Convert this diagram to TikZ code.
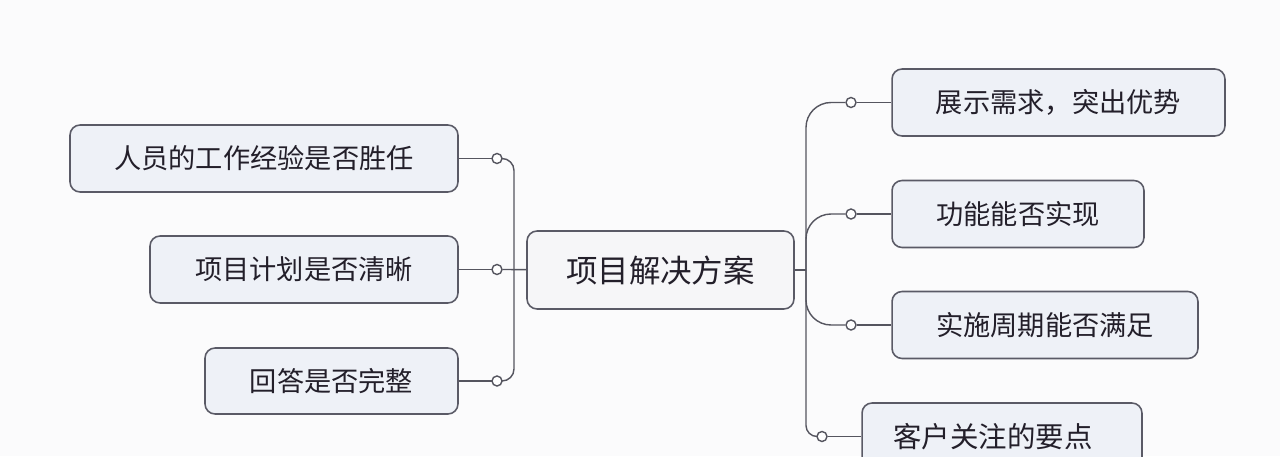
\documentclass[tikz,border=0pt]{standalone}
\usepackage{fontspec}
\newfontfamily\cjk{Noto Sans CJK SC}
\definecolor{boxfill}{HTML}{EEF1F7}
\definecolor{topicfill}{HTML}{F6F6F8}
\definecolor{boxline}{HTML}{5A5A66}
\definecolor{wirecol}{HTML}{55555F}
\definecolor{ink}{HTML}{231F2A}
\definecolor{paper}{HTML}{FBFBFC}
\begin{document}
\begin{tikzpicture}[x=0.02cm, y=-0.02cm,
  box/.style={draw=boxline, line width=0.9pt, fill=boxfill, rounded corners=0.2cm, inner sep=0pt, align=center, text=ink, font=\cjk\fontsize{15.5}{18}\selectfont, minimum height=1.34cm},
  knob/.style={circle, draw=wirecol, line width=0.8pt, fill=white, inner sep=0pt, minimum size=0.2cm},
  wire/.style={draw=wirecol, line width=0.8pt}]
\fill[paper] (0,0) rectangle (1280,456);
\useasboundingbox (0,0) rectangle (1280,456);
% central topic
\node[box, fill=topicfill, minimum width=5.34cm, minimum height=1.56cm, font=\cjk\fontsize{17.9}{20}\selectfont] (topic) at (660.5,270) {项目解决方案};
% left branches
\node[box, minimum width=7.76cm] (exp) at (264,158.5) {人员的工作经验是否胜任};
\node[box, minimum width=6.16cm] (plan) at (304,269.5) {项目计划是否清晰};
\node[box, minimum width=5.06cm, minimum height=1.32cm] (answer) at (331.5,381) {回答是否完整};
% right branches
\node[box, minimum width=6.66cm] (need) at (1058.5,102.5) {展示需求，突出优势};
\node[box, minimum width=5.04cm] (func) at (1018,214) {功能能否实现};
\node[box, minimum width=6.12cm] (cycle) at (1045,325) {实施周期能否满足};
\node[box, minimum width=5.6cm, font=\cjk\fontsize{16.2}{19}\selectfont] (focus) at (1002,436.5) {\hspace*{-0.36cm}客户关注的要点};
% joints
\coordinate (lspine) at (514,269.5);
\coordinate (rspine) at (806,270);
\draw[wire] (exp) -- (497,158.5) node[knob] (k1) {};
\draw[wire] (plan) -- (497,269.5) node[knob] (k2) {};
\draw[wire] (answer) -- (497,381) node[knob] (k3) {};
\draw[wire] (k2) -- (topic);
\draw[wire, rounded corners=0.24cm] (k1.east) -| (lspine) |- (k3.east);
\node[knob] (k4) at (851,102.5) {};
\node[knob] (k5) at (851,214) {};
\node[knob] (k6) at (851,325) {};
\node[knob] (k7) at (822,436.5) {};
\draw[wire] (topic) -- (rspine);
\draw[wire, rounded corners=0.5cm] (rspine) |- (k4.west);
\draw[wire, rounded corners=0.5cm] (rspine) |- (k5.west);
\draw[wire, rounded corners=0.5cm] (rspine) |- (k6.west);
\draw[wire, rounded corners=0.22cm] (rspine) |- (k7.west);
\draw[wire] (k4) -- (need);
\draw[wire] (k5) -- (func);
\draw[wire] (k6) -- (cycle);
\draw[wire] (k7) -- (focus);
\end{tikzpicture}
\end{document}
